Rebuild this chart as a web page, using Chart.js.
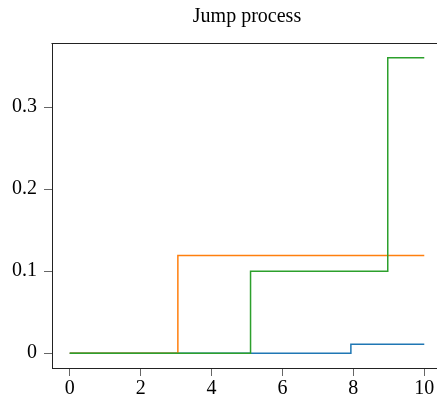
<!DOCTYPE html>
<html>
<head>
<meta charset="utf-8">
<script src="https://cdn.jsdelivr.net/npm/chart.js@4/dist/chart.umd.min.js"></script>
<style>
  html, body { margin: 0; padding: 0; overflow: hidden; background: #fff; }
  #wrap { position: relative; width: 442px; height: 403px; }
</style>
</head>
<body>
<div id="wrap"><canvas id="c" width="442" height="403"></canvas></div>
<script>
// Jump times and levels of three pure-jump sample paths on [0, 10]
const pathA = [ [0, 0], [7.93, 0.011], [10, 0.011] ];
const pathB = [ [0, 0], [3.05, 0.119], [10, 0.119] ];
const pathC = [ [0, 0], [5.10, 0.100], [8.97, 0.360], [10, 0.360] ];

const xTicks = [0, 2, 4, 6, 8, 10];
const yTicks = [0, 0.1, 0.2, 0.3];

const toPoints = p => p.map(([x, y]) => ({ x, y }));

// Plain frame line along the top of the plotting area
const topFrame = {
  id: 'topFrame',
  afterDraw(chart) {
    const { ctx, chartArea } = chart;
    ctx.save();
    ctx.strokeStyle = '#222';
    ctx.lineWidth = 1;
    ctx.beginPath();
    ctx.moveTo(chartArea.left - 0.5, Math.round(chartArea.top) + 0.5);
    ctx.lineTo(chartArea.right + 10, Math.round(chartArea.top) + 0.5);
    ctx.stroke();
    ctx.restore();
  }
};

const serif = "'Liberation Serif', 'Times New Roman', serif";

new Chart(document.getElementById('c'), {
  type: 'line',
  data: {
    datasets: [
      { data: toPoints(pathA), borderColor: '#1f77b4', order: 3 },
      { data: toPoints(pathB), borderColor: '#ff7f0e', order: 2 },
      { data: toPoints(pathC), borderColor: '#2ca02c', order: 1 }
    ]
  },
  options: {
    responsive: false,
    animation: false,
    events: [],
    layout: { padding: { left: 0, right: 0, top: 0, bottom: 0 } },
    elements: {
      line: { stepped: true, borderWidth: 1.5, fill: false, tension: 0 },
      point: { radius: 0 }
    },
    plugins: {
      legend: { display: false },
      tooltip: { enabled: false },
      title: {
        display: true,
        text: 'Jump process',
        fullSize: false,
        color: '#000',
        font: { family: serif, size: 20, weight: 'normal' },
        padding: { top: 5, bottom: 14 }
      }
    },
    scales: {
      x: {
        type: 'linear',
        min: -0.5,
        max: 10.5,
        afterBuildTicks: s => { s.ticks = xTicks.map(v => ({ value: v })); },
        afterFit: s => { s.height = 35; },
        grid: { drawOnChartArea: false, tickLength: 8, color: '#666', tickWidth: 1 },
        border: { display: true, color: '#222', width: 1 },
        ticks: { color: '#000', font: { family: serif, size: 20 }, padding: 1, maxRotation: 0 }
      },
      y: {
        type: 'linear',
        min: -0.018,
        max: 0.378,
        afterBuildTicks: s => { s.ticks = yTicks.map(v => ({ value: v })); },
        afterFit: s => { s.width = 52; },
        grid: { drawOnChartArea: false, tickLength: 8, color: '#666', tickWidth: 1 },
        border: { display: true, color: '#222', width: 1 },
        ticks: { color: '#000', font: { family: serif, size: 20 }, padding: 7,
                 callback: v => String(v) }
      }
    }
  },
  plugins: [topFrame]
});
</script>
</body>
</html>
